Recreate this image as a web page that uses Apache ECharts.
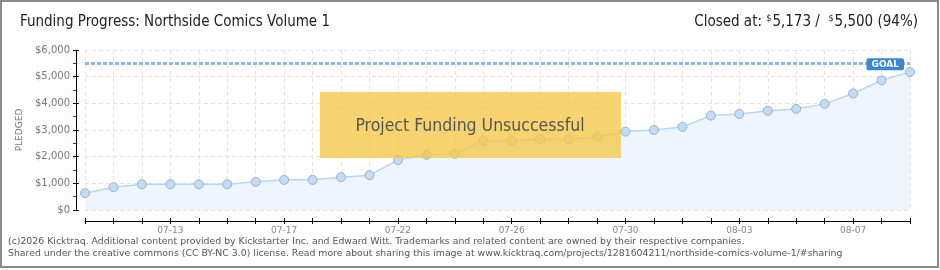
<!DOCTYPE html>
<html><head><meta charset="utf-8">
<script src="https://cdn.jsdelivr.net/npm/echarts@6/dist/echarts.min.js"></script>
<style>html,body{margin:0;padding:0;background:#fff}#c{width:940px;height:270px}</style>
</head><body><div id="c"></div>
<script>
// ---- data ----
const dates = ['07-10','07-11','07-12','07-13','07-14','07-15','07-16','07-17','07-18','07-19',
  '07-21','07-22','07-23','07-24','07-25','07-26','07-27','07-28','07-29','07-30',
  '07-31','08-01','08-02','08-03','08-04','08-05','08-06','08-07','08-08','08-09'];
const pledged = [630,855,965,965,965,965,1055,1130,1130,1230,
  1305,1870,2070,2110,2610,2600,2660,2660,2740,2940,
  3000,3115,3540,3600,3720,3790,3980,4370,4860,5173];
const goal = 5500;
const yMin = 0, yMax = 6000, yStep = 1000;
const titleText = 'Funding Progress: Northside Comics Volume 1';
const bannerText = 'Project Funding Unsuccessful';
const footer1 = '(c)2026 Kicktraq. Additional content provided by Kickstarter Inc. and Edward Witt. Trademarks and related content are owned by their respective companies.';
const footer2 = 'Shared under the creative commons (CC BY-NC 3.0) license. Read more about sharing this image at www.kicktraq.com/projects/1281604211/northside-comics-volume-1/#sharing';

const condensed = "'Liberation Sans Narrow','DejaVu Sans Condensed','Roboto',sans-serif";
const chart = echarts.init(document.getElementById('c'));
const split = {show:true, lineStyle:{type:[4,3], color:'#e3e3e3', width:1}};
chart.setOption({
  animation:false,
  backgroundColor:'#fff',
  grid:{left:85, right:30, top:50, bottom:60},
  xAxis:[{
    type:'category', data:dates, boundaryGap:false, offset:11,
    axisLine:{show:true, onZero:false, lineStyle:{color:'#000', width:1}},
    axisTick:{show:true, interval:0, length:3, lineStyle:{color:'#000'}},
    axisLabel:{interval:(i)=> i%4===3, color:'#888', fontSize:9, margin:5, fontFamily:'DejaVu Sans'},
    splitLine:Object.assign({interval:0}, split)
  },{
    type:'category', data:dates, boundaryGap:false, offset:11, position:'bottom',
    axisLine:{show:false, onZero:false},
    axisTick:{show:true, inside:true, interval:0, length:3, lineStyle:{color:'#000'}},
    axisLabel:{show:false}, splitLine:{show:false}
  }],
  yAxis:[{
    type:'value', min:yMin, max:yMax, interval:yStep, offset:9,
    axisLine:{show:true, onZero:false, lineStyle:{color:'#000'}},
    axisTick:{show:true, length:3, lineStyle:{color:'#000'}},
    minorTick:{show:true, splitNumber:2, length:3, lineStyle:{color:'#e00000'}},
    axisLabel:{formatter:(v)=>'$'+v.toLocaleString('en-US'), color:'#777', fontSize:10, margin:6, fontFamily:'DejaVu Sans'},
    splitLine:split,
    name:'PLEDGED', nameLocation:'middle', nameGap:52, nameRotate:90,
    nameTextStyle:{color:'#777', fontSize:9, fontFamily:'DejaVu Sans'}
  },{
    type:'value', min:yMin, max:yMax, interval:yStep, offset:9, position:'left',
    axisLine:{show:false, onZero:false},
    axisTick:{show:true, inside:true, length:3, lineStyle:{color:'#000'}},
    axisLabel:{show:false}, splitLine:{show:false}
  }],
  series:[{
    type:'line', data:pledged, xAxisIndex:0, yAxisIndex:0,
    symbol:'circle', symbolSize:9,
    itemStyle:{color:'#c3dcf5', borderColor:'#98b2cc', borderWidth:1},
    lineStyle:{color:'#b7d6f3', width:1.5},
    areaStyle:{color:'#eef5fd', opacity:1},
    markLine:{
      silent:true, symbol:'none', animation:false,
      data:[{yAxis:goal}],
      lineStyle:{color:'#8cb8e6', type:[4,2], width:3},
      label:{show:true, position:'insideEndTop', formatter:'GOAL', distance:[6,-7],
        backgroundColor:'#3a86d6', color:'#fff', padding:[2,5,1,5], borderRadius:2,
        fontSize:9, fontWeight:'bold', fontFamily:'DejaVu Sans'}
    }
  }],
  graphic:[
    {type:'rect', z:200, shape:{x:1, y:1, width:937, height:266}, style:{fill:'none', stroke:'#8a8a8a', lineWidth:2}},
    {type:'text', z:200, left:20, top:15, style:{text:titleText, font:"15px "+condensed, fill:'#222'}},
    {type:'text', z:200, right:22, top:14, style:{
      text:'Closed at: {s|$}5,173 /  {s|$}5,500 (94%)',
      font:"15px "+condensed, fill:'#222',
      rich:{s:{fontSize:9, verticalAlign:'top', fontFamily:condensed, fill:'#222', padding:[0,1,7,0]}}
    }},
    {type:'rect', z:150, shape:{x:320, y:92, width:301, height:66}, style:{fill:'rgba(245,200,70,0.78)'}},
    {type:'text', z:160, x:470, y:126, style:{text:bannerText, font:"17.5px "+condensed, fill:'#555',
      align:'center', verticalAlign:'middle', textShadowColor:'#fff', textShadowOffsetX:1, textShadowOffsetY:1, textShadowBlur:0}},
    {type:'text', z:200, left:8, top:237, style:{text:footer1, font:"9.35px 'DejaVu Sans',Verdana,sans-serif", fill:'#555'}},
    {type:'text', z:200, left:8, top:249, style:{text:footer2, font:"9.35px 'DejaVu Sans',Verdana,sans-serif", fill:'#555'}}
  ]
});
</script></body></html>
